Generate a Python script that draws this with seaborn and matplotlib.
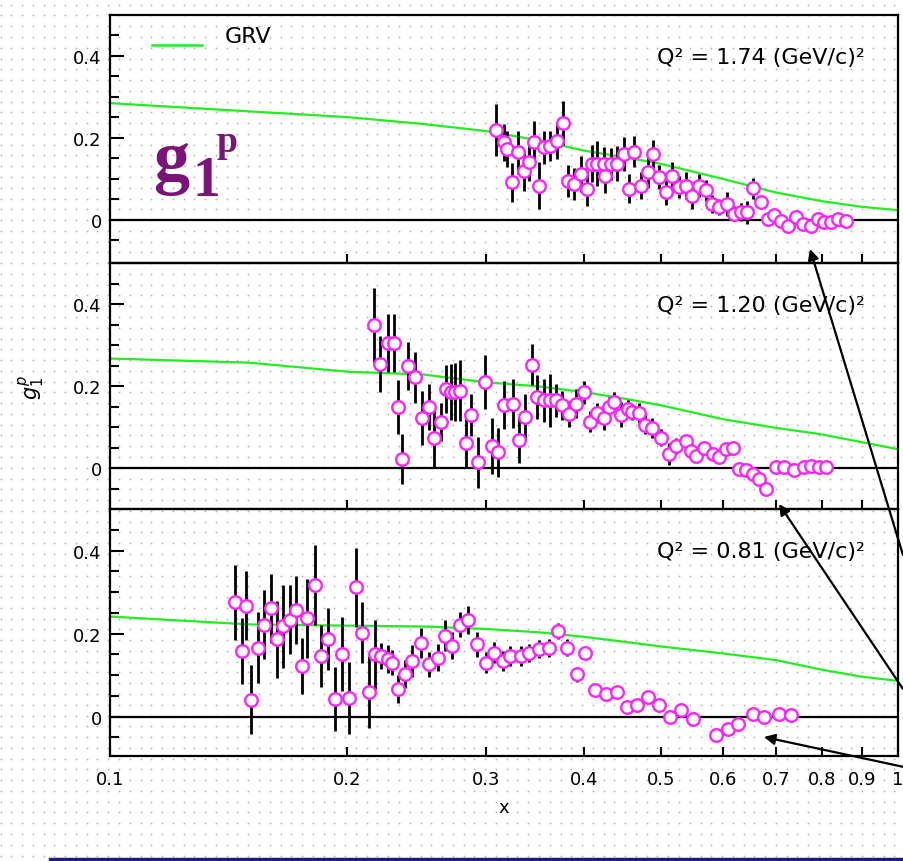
import numpy as np
import pandas as pd
import matplotlib
matplotlib.use("Agg")
import matplotlib.pyplot as plt
from matplotlib.ticker import FixedLocator, FixedFormatter, NullLocator, NullFormatter
import seaborn as sns

# ---------------- data ----------------
# Q^2 = 1.74 (GeV/c)^2
top_x = [0.309, 0.316, 0.319, 0.324, 0.329, 0.335, 0.340, 0.345, 0.350, 0.355,
         0.362, 0.369, 0.376, 0.381, 0.388, 0.396, 0.403, 0.409, 0.415, 0.423,
         0.425, 0.432, 0.440, 0.449, 0.455, 0.463, 0.472, 0.481, 0.489, 0.498,
         0.507, 0.517, 0.527, 0.538, 0.548, 0.559, 0.570, 0.581, 0.593, 0.606,
         0.619, 0.632, 0.644, 0.654, 0.670, 0.683, 0.696, 0.710, 0.725, 0.742,
         0.757, 0.775, 0.791, 0.806, 0.822, 0.838, 0.859]
top_y = [0.220, 0.189, 0.173, 0.092, 0.165, 0.120, 0.141, 0.189, 0.084, 0.177,
         0.181, 0.193, 0.237, 0.096, 0.088, 0.112, 0.076, 0.137, 0.137, 0.137,
         0.108, 0.137, 0.137, 0.161, 0.076, 0.167, 0.084, 0.116, 0.161, 0.104,
         0.067, 0.108, 0.080, 0.084, 0.059, 0.084, 0.072, 0.039, 0.031, 0.039,
         0.015, 0.019, 0.019, 0.077, 0.043, 0.002, 0.011, -0.002, -0.014, 0.007,
         -0.010, -0.014, 0.002, -0.006, -0.006, 0.002, -0.002]
top_err = [0.063, 0.045, 0.045, 0.047, 0.053, 0.049, 0.045, 0.053, 0.057, 0.041,
           0.037, 0.045, 0.054, 0.039, 0.039, 0.043, 0.043, 0.045, 0.055, 0.040,
           0.043, 0.039, 0.043, 0.041, 0.035, 0.039, 0.033, 0.037, 0.035, 0.029,
           0.031, 0.033, 0.027, 0.033, 0.033, 0.029, 0.025, 0.022, 0.020, 0.030,
           0.018, 0.022, 0.028, 0.026, 0.015, 0.010, 0.010, 0.010, 0.010, 0.008,
           0.008, 0.008, 0.008, 0.008, 0.008, 0.008, 0.008]

# Q^2 = 1.20 (GeV/c)^2
mid_x = [0.216, 0.220, 0.225, 0.229, 0.232, 0.235, 0.239, 0.244, 0.249, 0.254,
         0.258, 0.263, 0.267, 0.271, 0.274, 0.278, 0.283, 0.287, 0.293, 0.299,
         0.305, 0.311, 0.316, 0.325, 0.330, 0.336, 0.343, 0.348, 0.355, 0.362,
         0.368, 0.375, 0.382, 0.390, 0.399, 0.407, 0.415, 0.424, 0.430, 0.436,
         0.445, 0.454, 0.460, 0.469, 0.478, 0.488, 0.500, 0.512, 0.522, 0.538,
         0.546, 0.554, 0.568, 0.582, 0.593, 0.605, 0.617, 0.629, 0.641, 0.654,
         0.667, 0.680, 0.700, 0.717, 0.738, 0.760, 0.775, 0.794, 0.810]
mid_y = [0.349, 0.253, 0.305, 0.305, 0.149, 0.022, 0.249, 0.221, 0.121, 0.149,
         0.074, 0.113, 0.193, 0.185, 0.185, 0.189, 0.062, 0.129, 0.014, 0.209,
         0.054, 0.038, 0.153, 0.157, 0.068, 0.125, 0.252, 0.173, 0.165, 0.165,
         0.165, 0.153, 0.132, 0.157, 0.185, 0.113, 0.134, 0.121, 0.149, 0.161,
         0.130, 0.145, 0.137, 0.134, 0.106, 0.098, 0.074, 0.034, 0.054, 0.066,
         0.042, 0.030, 0.050, 0.034, 0.026, 0.046, 0.050, -0.002, -0.006, -0.014,
         -0.026, -0.050, 0.002, 0.002, -0.006, 0.002, 0.006, 0.002, 0.002]
mid_err = [0.090, 0.068, 0.070, 0.070, 0.066, 0.060, 0.058, 0.062, 0.066, 0.056,
           0.072, 0.046, 0.058, 0.068, 0.070, 0.074, 0.062, 0.052, 0.062, 0.066,
           0.068, 0.060, 0.058, 0.060, 0.056, 0.056, 0.050, 0.054, 0.052, 0.064,
           0.040, 0.036, 0.032, 0.036, 0.028, 0.026, 0.025, 0.028, 0.025, 0.024,
           0.030, 0.020, 0.020, 0.024, 0.024, 0.024, 0.020, 0.026, 0.020, 0.015,
           0.012, 0.012, 0.012, 0.012, 0.012, 0.010, 0.010, 0.010, 0.010, 0.010,
           0.010, 0.010, 0.008, 0.008, 0.008, 0.008, 0.008, 0.008, 0.008]

# Q^2 = 0.81 (GeV/c)^2
bot_x = [0.144, 0.147, 0.149, 0.151, 0.154, 0.157, 0.160, 0.163, 0.166, 0.169,
         0.172, 0.175, 0.178, 0.182, 0.185, 0.189, 0.193, 0.197, 0.201, 0.205,
         0.209, 0.213, 0.217, 0.221, 0.225, 0.228, 0.232, 0.237, 0.242, 0.248,
         0.254, 0.261, 0.266, 0.272, 0.278, 0.285, 0.292, 0.300, 0.307, 0.315,
         0.322, 0.332, 0.340, 0.350, 0.361, 0.370, 0.380, 0.391, 0.401, 0.413,
         0.426, 0.440, 0.453, 0.467, 0.481, 0.498, 0.514, 0.530, 0.549, 0.587,
         0.608, 0.626, 0.654, 0.676, 0.707, 0.731]
bot_y = [0.275, 0.158, 0.267, 0.041, 0.166, 0.221, 0.261, 0.186, 0.217, 0.233,
         0.257, 0.122, 0.237, 0.317, 0.146, 0.186, 0.043, 0.150, 0.044, 0.311,
         0.202, 0.059, 0.150, 0.146, 0.138, 0.130, 0.067, 0.102, 0.134, 0.178,
         0.126, 0.142, 0.195, 0.171, 0.221, 0.232, 0.174, 0.130, 0.154, 0.134,
         0.146, 0.146, 0.154, 0.162, 0.166, 0.206, 0.166, 0.102, 0.154, 0.063,
         0.055, 0.059, 0.023, 0.027, 0.047, 0.027, -0.001, 0.015, -0.005, -0.044,
         -0.029, -0.017, 0.007, -0.001, 0.007, 0.003]
bot_err = [0.090, 0.080, 0.083, 0.083, 0.085, 0.083, 0.083, 0.093, 0.099, 0.083,
           0.081, 0.067, 0.095, 0.097, 0.075, 0.075, 0.077, 0.089, 0.087, 0.095,
           0.073, 0.087, 0.083, 0.032, 0.034, 0.030, 0.034, 0.034, 0.038, 0.036,
           0.030, 0.032, 0.038, 0.032, 0.030, 0.034, 0.030, 0.025, 0.025, 0.025,
           0.025, 0.025, 0.022, 0.022, 0.022, 0.020, 0.020, 0.018, 0.014, 0.014,
           0.012, 0.012, 0.010, 0.010, 0.010, 0.010, 0.010, 0.010, 0.010, 0.010,
           0.010, 0.010, 0.008, 0.008, 0.008, 0.008]

# GRV curves
grv_x = [0.1, 0.15, 0.2, 0.25, 0.3, 0.35, 0.4, 0.45, 0.5, 0.6, 0.7, 0.8, 0.9, 1.0]
grv_top = [0.285, 0.265, 0.251, 0.234, 0.217, 0.194, 0.169, 0.153, 0.137, 0.100,
           0.067, 0.046, 0.032, 0.024]
grv_mid = [0.267, 0.257, 0.235, 0.228, 0.209, 0.199, 0.185, 0.169, 0.153, 0.119,
           0.098, 0.082, 0.063, 0.046]
grv_bot = [0.241, 0.222, 0.219, 0.217, 0.211, 0.203, 0.192, 0.180, 0.169, 0.152,
           0.136, 0.113, 0.096, 0.086]

q2_labels = ["Q\u00b2 = 1.74 (GeV/c)\u00b2", "Q\u00b2 = 1.20 (GeV/c)\u00b2",
             "Q\u00b2 = 0.81 (GeV/c)\u00b2"]
x_ticks = [0.1, 0.2, 0.3, 0.4, 0.5, 0.6, 0.7, 0.8, 0.9, 1.0]
x_tick_labels = ["0.1", "0.2", "0.3", "0.4", "0.5", "0.6", "0.7", "0.8", "0.9", "1"]
y_ticks = [0, 0.2, 0.4]
y_tick_labels = ["0", "0.2", "0.4"]
y_minor = [-0.05, 0.05, 0.1, 0.15, 0.25, 0.3, 0.35, 0.45]

# ---------------- figure ----------------
W, H = 904, 862
fig = plt.figure(figsize=(W / 100, H / 100), dpi=100)
fig.patch.set_facecolor("white")

# dotted paper background
bg = fig.add_axes([0, 0, 1, 1], zorder=-10)
bg.set_xlim(0, W)
bg.set_ylim(H, 0)
bg.axis("off")
gx = np.arange(0.5, W, 10.77)
gy = np.arange(5.7, H, 10.77)
GX, GY = np.meshgrid(gx, gy)
bg.scatter(GX.ravel(), GY.ravel(), s=1.7, c="#b4b4b4", linewidths=0)

panels = [
    dict(top=16, bot=264, ylim=(-0.105, 0.5), x=top_x, y=top_y, e=top_err, g=grv_top),
    dict(top=264, bot=510, ylim=(-0.1, 0.5), x=mid_x, y=mid_y, e=mid_err, g=grv_mid),
    dict(top=510, bot=757, ylim=(-0.095, 0.5), x=bot_x, y=bot_y, e=bot_err, g=grv_bot),
]
LEFT, RIGHT = 110, 898

axes = []
for i, p in enumerate(panels):
    ax = fig.add_axes([LEFT / W, 1 - p["bot"] / H, (RIGHT - LEFT) / W,
                       (p["bot"] - p["top"]) / H])
    ax.patch.set_alpha(0)
    ax.set_xscale("log")
    ax.set_xlim(0.1, 1.0)
    ax.set_ylim(*p["ylim"])
    ax.axhline(0, color="black", lw=1.6, zorder=1)

    sns.lineplot(x=grv_x, y=p["g"], ax=ax, color="#22ee22", lw=1.6,
                 zorder=2, estimator=None, sort=False)
    ax.errorbar(p["x"], p["y"], yerr=p["e"], fmt="none", ecolor="black",
                elinewidth=2.0, capsize=0, zorder=3)
    df = pd.DataFrame({"x": p["x"], "y": p["y"]})
    sns.scatterplot(data=df, x="x", y="y", ax=ax, marker="o", s=82,
                    color="white", edgecolor="#ff22ff", linewidth=1.7, zorder=4)

    ax.set_xlabel("")
    ax.set_ylabel("")
    for s in ax.spines.values():
        s.set_linewidth(1.6)
        s.set_color("black")
    ax.xaxis.set_major_locator(FixedLocator(x_ticks))
    ax.xaxis.set_minor_locator(NullLocator())
    if i == 2:
        ax.xaxis.set_major_formatter(FixedFormatter(x_tick_labels))
    else:
        ax.xaxis.set_major_formatter(NullFormatter())
    ax.xaxis.set_minor_formatter(NullFormatter())
    ax.yaxis.set_major_locator(FixedLocator(y_ticks))
    ax.yaxis.set_major_formatter(FixedFormatter(y_tick_labels))
    ax.yaxis.set_minor_locator(FixedLocator(y_minor))
    ax.tick_params(axis="x", which="major", direction="in", length=6.5, width=1.5,
                   top=False, bottom=True, pad=10, labelsize=13)
    ax.tick_params(axis="y", which="major", direction="in", length=10, width=1.5,
                   left=True, right=False, pad=6, labelsize=13)
    ax.tick_params(axis="y", which="minor", direction="in", length=6.5, width=1.5,
                   left=True, right=False)

    ax.text(0.958, 0.83, q2_labels[i], transform=ax.transAxes, ha="right",
            va="center", fontsize=16, color="black", zorder=6)
    axes.append(ax)

axes[2].set_xlabel("x", fontsize=13, labelpad=7)

# overlay for annotations
ov = fig.add_axes([0, 0, 1, 1], zorder=10)
ov.set_xlim(0, W)
ov.set_ylim(H, 0)
ov.axis("off")
ov.patch.set_alpha(0)

# legend
ov.plot([152, 202], [45.5, 45.5], color="#22ee22", lw=1.8)
ov.text(225, 37, "GRV", fontsize=16, ha="left", va="center", color="black")

# g1^p title
purple = "#7a1478"
ov.text(153, 181, "g", fontsize=52, fontweight="bold", family="Liberation Serif",
        color=purple, ha="left", va="baseline")
ov.text(193, 196, "1", fontsize=40, fontweight="bold", family="Liberation Serif",
        color=purple, ha="left", va="baseline")
ov.text(217, 152, "p", fontsize=27, fontweight="bold", family="Liberation Serif",
        color=purple, ha="left", va="baseline")

# y label
ov.text(32, 388, r"$g_1^p$", rotation=90, ha="center", va="center", fontsize=15)

# arrows
arrow_kw = dict(arrowstyle="-|>", color="black", lw=1.6, mutation_scale=16,
                shrinkA=0, shrinkB=0)
ov.annotate("", xy=(810, 250), xytext=(903, 556), arrowprops=arrow_kw)
ov.annotate("", xy=(779, 505), xytext=(903, 690), arrowprops=arrow_kw)
ov.annotate("", xy=(764, 738), xytext=(904, 768), arrowprops=arrow_kw)

# bottom rule
ov.plot([50, 904], [860.5, 860.5], color="#1c1c7a", lw=2.5)

fig.savefig("out.png", dpi=100, facecolor="white")
